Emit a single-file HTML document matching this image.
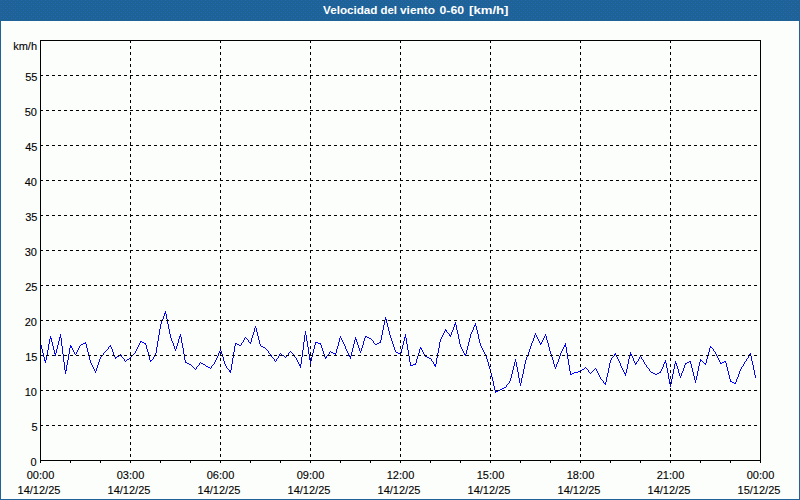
<!DOCTYPE html>
<html><head><meta charset="utf-8"><title>Velocidad del viento</title>
<style>
html,body{margin:0;padding:0;background:#fcfefc;}
body{width:800px;height:500px;overflow:hidden;font-family:"Liberation Sans",sans-serif;}
svg{display:block;position:absolute;left:0;top:0;}
text{font-family:"Liberation Sans",sans-serif;font-size:11px;fill:#000;stroke:#000;stroke-width:0.1px;}
.t{font-weight:bold;fill:#fff;stroke:none;}
</style></head><body>
<svg width="800" height="500" viewBox="0 0 800 500">
<rect x="0" y="0" width="800" height="500" fill="#fcfefc"/>
<defs><pattern id="dz" x="0" y="0" width="4" height="4" patternUnits="userSpaceOnUse"><rect width="4" height="4" fill="#1e6396"/><rect x="1" y="0" width="1" height="1" fill="#2a64b8"/><rect x="3" y="2" width="1" height="1" fill="#2a64b8"/></pattern></defs>
<rect x="0" y="0" width="800" height="21" fill="#1f6398"/>
<rect x="0" y="0" width="800" height="20" fill="url(#dz)"/>
<rect x="0" y="0" width="1" height="500" fill="#1f6398"/>
<rect x="799" y="0" width="1" height="500" fill="#1f6398"/>
<rect x="0" y="499" width="800" height="1" fill="#1f6398"/>
<text class="t" x="323" y="14" textLength="54.5" lengthAdjust="spacingAndGlyphs">Velocidad</text>
<text class="t" x="380.5" y="14" textLength="16.5" lengthAdjust="spacingAndGlyphs">del</text>
<text class="t" x="400" y="14" textLength="35" lengthAdjust="spacingAndGlyphs">viento</text>
<text class="t" x="439.5" y="14" textLength="24.5" lengthAdjust="spacingAndGlyphs">0-60</text>
<text class="t" x="469" y="14" textLength="39.5" lengthAdjust="spacingAndGlyphs">[km/h]</text>
<path shape-rendering="crispEdges" fill="#0000ff" stroke="none" d="M40 343h1v2h-1zM41 345h1v4h-1zM42 349h1v4h-1zM43 353h1v4h-1zM44 357h1v4h-1zM45 360h1v3h-1zM46 355h1v5h-1zM47 350h1v5h-1zM48 344h1v6h-1zM49 339h1v5h-1zM50 336h1v3h-1zM51 338h1v4h-1zM52 342h1v4h-1zM53 346h1v4h-1zM54 350h1v4h-1zM55 353h1v3h-1zM56 349h1v4h-1zM57 345h1v4h-1zM58 341h1v4h-1zM59 337h1v4h-1zM60 334h1v4h-1zM61 338h1v8h-1zM62 346h1v8h-1zM63 354h1v8h-1zM64 362h1v8h-1zM65 370h1v4h-1zM66 365h1v6h-1zM67 360h1v5h-1zM68 354h1v6h-1zM69 348h1v6h-1zM70 345h1v3h-1zM71 346h1v2h-1zM72 348h1v2h-1zM73 350h1v2h-1zM74 352h1v2h-1zM75 354h1v1h-1zM76 352h1v2h-1zM77 350h1v2h-1zM78 348h1v2h-1zM79 346h1v2h-1zM80 345h1v1h-1zM81 344h1v1h-1zM82 344h1v1h-1zM83 343h1v1h-1zM84 343h1v1h-1zM85 342h1v2h-1zM86 344h1v4h-1zM87 348h1v4h-1zM88 352h1v4h-1zM89 356h1v4h-1zM90 360h1v3h-1zM91 363h1v2h-1zM92 365h1v2h-1zM93 367h1v2h-1zM94 369h1v2h-1zM95 371h1v2h-1zM96 368h1v3h-1zM97 365h1v3h-1zM98 362h1v3h-1zM99 359h1v3h-1zM100 357h1v2h-1zM101 356h1v1h-1zM102 355h1v1h-1zM103 353h1v2h-1zM104 352h1v1h-1zM105 351h1v1h-1zM106 350h1v1h-1zM107 349h1v1h-1zM108 347h1v2h-1zM109 346h1v1h-1zM110 345h1v2h-1zM111 347h1v2h-1zM112 349h1v3h-1zM113 352h1v3h-1zM114 355h1v2h-1zM115 357h1v2h-1zM116 357h1v1h-1zM117 356h1v1h-1zM118 356h1v1h-1zM119 355h1v1h-1zM120 354h1v1h-1zM121 355h1v2h-1zM122 357h1v1h-1zM123 358h1v1h-1zM124 359h1v2h-1zM125 361h1v1h-1zM126 360h1v1h-1zM127 359h1v1h-1zM128 359h1v1h-1zM129 358h1v1h-1zM130 357h1v1h-1zM131 356h1v1h-1zM132 355h1v1h-1zM133 354h1v1h-1zM134 353h1v1h-1zM135 351h1v2h-1zM136 349h1v2h-1zM137 347h1v2h-1zM138 345h1v2h-1zM139 343h1v2h-1zM140 341h1v2h-1zM141 341h1v1h-1zM142 342h1v1h-1zM143 342h1v1h-1zM144 343h1v1h-1zM145 343h1v2h-1zM146 345h1v4h-1zM147 349h1v3h-1zM148 352h1v4h-1zM149 356h1v4h-1zM150 360h1v2h-1zM151 360h1v1h-1zM152 359h1v1h-1zM153 357h1v2h-1zM154 356h1v1h-1zM155 353h1v3h-1zM156 347h1v6h-1zM157 341h1v6h-1zM158 335h1v6h-1zM159 329h1v6h-1zM160 324h1v5h-1zM161 321h1v3h-1zM162 319h1v2h-1zM163 316h1v3h-1zM164 313h1v3h-1zM165 311h1v3h-1zM166 314h1v5h-1zM167 319h1v5h-1zM168 324h1v5h-1zM169 329h1v5h-1zM170 334h1v4h-1zM171 338h1v3h-1zM172 341h1v2h-1zM173 343h1v3h-1zM174 346h1v3h-1zM175 349h1v2h-1zM176 346h1v3h-1zM177 343h1v3h-1zM178 339h1v4h-1zM179 336h1v3h-1zM180 334h1v3h-1zM181 337h1v6h-1zM182 343h1v5h-1zM183 348h1v6h-1zM184 354h1v6h-1zM185 360h1v3h-1zM186 362h1v1h-1zM187 363h1v1h-1zM188 363h1v1h-1zM189 364h1v1h-1zM190 364h1v1h-1zM191 365h1v1h-1zM192 366h1v1h-1zM193 367h1v1h-1zM194 368h1v1h-1zM195 369h1v1h-1zM196 367h1v2h-1zM197 366h1v1h-1zM198 365h1v1h-1zM199 363h1v2h-1zM200 362h1v1h-1zM201 363h1v1h-1zM202 363h1v1h-1zM203 364h1v1h-1zM204 364h1v1h-1zM205 365h1v1h-1zM206 366h1v1h-1zM207 366h1v1h-1zM208 367h1v1h-1zM209 367h1v1h-1zM210 368h1v1h-1zM211 366h1v2h-1zM212 365h1v1h-1zM213 364h1v1h-1zM214 362h1v2h-1zM215 360h1v2h-1zM216 358h1v2h-1zM217 356h1v2h-1zM218 353h1v3h-1zM219 351h1v2h-1zM220 349h1v2h-1zM221 351h1v3h-1zM222 354h1v3h-1zM223 357h1v4h-1zM224 361h1v3h-1zM225 364h1v2h-1zM226 366h1v2h-1zM227 368h1v1h-1zM228 369h1v1h-1zM229 370h1v2h-1zM230 370h1v3h-1zM231 364h1v6h-1zM232 358h1v6h-1zM233 352h1v6h-1zM234 346h1v6h-1zM235 343h1v3h-1zM236 343h1v1h-1zM237 344h1v1h-1zM238 344h1v1h-1zM239 345h1v1h-1zM240 345h1v1h-1zM241 343h1v2h-1zM242 342h1v1h-1zM243 340h1v2h-1zM244 338h1v2h-1zM245 337h1v1h-1zM246 338h1v1h-1zM247 339h1v1h-1zM248 340h1v2h-1zM249 342h1v1h-1zM250 342h1v2h-1zM251 338h1v4h-1zM252 335h1v3h-1zM253 332h1v3h-1zM254 328h1v4h-1zM255 326h1v2h-1zM256 328h1v4h-1zM257 332h1v4h-1zM258 336h1v4h-1zM259 340h1v4h-1zM260 344h1v2h-1zM261 346h1v1h-1zM262 346h1v1h-1zM263 347h1v1h-1zM264 347h1v1h-1zM265 348h1v1h-1zM266 349h1v1h-1zM267 350h1v1h-1zM268 351h1v2h-1zM269 353h1v1h-1zM270 354h1v1h-1zM271 355h1v2h-1zM272 357h1v1h-1zM273 358h1v1h-1zM274 359h1v2h-1zM275 361h1v1h-1zM276 359h1v2h-1zM277 358h1v1h-1zM278 356h1v2h-1zM279 354h1v2h-1zM280 353h1v1h-1zM281 354h1v1h-1zM282 355h1v1h-1zM283 355h1v1h-1zM284 356h1v1h-1zM285 357h1v1h-1zM286 356h1v1h-1zM287 355h1v1h-1zM288 353h1v2h-1zM289 352h1v1h-1zM290 351h1v1h-1zM291 352h1v1h-1zM292 353h1v1h-1zM293 354h1v2h-1zM294 356h1v1h-1zM295 357h1v1h-1zM296 358h1v2h-1zM297 360h1v2h-1zM298 362h1v2h-1zM299 364h1v2h-1zM300 364h1v4h-1zM301 357h1v7h-1zM302 350h1v7h-1zM303 342h1v8h-1zM304 335h1v7h-1zM305 331h1v4h-1zM306 335h1v6h-1zM307 341h1v6h-1zM308 347h1v7h-1zM309 354h1v6h-1zM310 360h1v4h-1zM311 357h1v4h-1zM312 353h1v4h-1zM313 349h1v4h-1zM314 345h1v4h-1zM315 342h1v3h-1zM316 342h1v1h-1zM317 342h1v1h-1zM318 343h1v1h-1zM319 343h1v1h-1zM320 343h1v2h-1zM321 345h1v3h-1zM322 348h1v3h-1zM323 351h1v3h-1zM324 354h1v3h-1zM325 357h1v2h-1zM326 356h1v2h-1zM327 355h1v1h-1zM328 354h1v1h-1zM329 352h1v2h-1zM330 351h1v1h-1zM331 352h1v1h-1zM332 352h1v1h-1zM333 353h1v1h-1zM334 353h1v1h-1zM335 353h1v2h-1zM336 349h1v4h-1zM337 346h1v3h-1zM338 342h1v4h-1zM339 338h1v4h-1zM340 336h1v2h-1zM341 338h1v2h-1zM342 340h1v2h-1zM343 342h1v2h-1zM344 344h1v2h-1zM345 346h1v3h-1zM346 349h1v2h-1zM347 351h1v2h-1zM348 353h1v2h-1zM349 355h1v2h-1zM350 356h1v3h-1zM351 352h1v4h-1zM352 348h1v4h-1zM353 344h1v4h-1zM354 340h1v4h-1zM355 337h1v3h-1zM356 339h1v3h-1zM357 342h1v3h-1zM358 345h1v3h-1zM359 348h1v3h-1zM360 351h1v2h-1zM361 348h1v3h-1zM362 345h1v3h-1zM363 341h1v4h-1zM364 338h1v3h-1zM365 336h1v2h-1zM366 336h1v1h-1zM367 337h1v1h-1zM368 337h1v1h-1zM369 338h1v1h-1zM370 338h1v1h-1zM371 339h1v1h-1zM372 340h1v1h-1zM373 341h1v2h-1zM374 343h1v1h-1zM375 344h1v1h-1zM376 344h1v1h-1zM377 343h1v1h-1zM378 343h1v1h-1zM379 342h1v1h-1zM380 340h1v3h-1zM381 335h1v5h-1zM382 330h1v5h-1zM383 325h1v5h-1zM384 320h1v5h-1zM385 317h1v3h-1zM386 319h1v4h-1zM387 323h1v4h-1zM388 327h1v4h-1zM389 331h1v4h-1zM390 335h1v3h-1zM391 338h1v3h-1zM392 341h1v3h-1zM393 344h1v3h-1zM394 347h1v3h-1zM395 350h1v2h-1zM396 352h1v1h-1zM397 352h1v1h-1zM398 353h1v1h-1zM399 353h1v1h-1zM400 353h1v2h-1zM401 349h1v4h-1zM402 345h1v4h-1zM403 341h1v4h-1zM404 337h1v4h-1zM405 334h1v4h-1zM406 338h1v6h-1zM407 344h1v6h-1zM408 350h1v6h-1zM409 356h1v6h-1zM410 362h1v4h-1zM411 365h1v1h-1zM412 365h1v1h-1zM413 364h1v1h-1zM414 364h1v1h-1zM415 363h1v2h-1zM416 359h1v4h-1zM417 356h1v3h-1zM418 353h1v3h-1zM419 349h1v4h-1zM420 347h1v2h-1zM421 348h1v2h-1zM422 350h1v2h-1zM423 352h1v2h-1zM424 354h1v2h-1zM425 356h1v1h-1zM426 356h1v1h-1zM427 357h1v1h-1zM428 357h1v1h-1zM429 358h1v1h-1zM430 358h1v1h-1zM431 359h1v2h-1zM432 361h1v1h-1zM433 362h1v2h-1zM434 364h1v2h-1zM435 364h1v3h-1zM436 358h1v6h-1zM437 353h1v5h-1zM438 348h1v5h-1zM439 342h1v6h-1zM440 339h1v3h-1zM441 337h1v2h-1zM442 335h1v2h-1zM443 333h1v2h-1zM444 331h1v2h-1zM445 329h1v2h-1zM446 330h1v2h-1zM447 332h1v1h-1zM448 333h1v1h-1zM449 334h1v2h-1zM450 335h1v2h-1zM451 332h1v3h-1zM452 330h1v2h-1zM453 327h1v3h-1zM454 324h1v3h-1zM455 322h1v3h-1zM456 325h1v5h-1zM457 330h1v4h-1zM458 334h1v5h-1zM459 339h1v5h-1zM460 344h1v3h-1zM461 347h1v2h-1zM462 349h1v2h-1zM463 351h1v2h-1zM464 353h1v2h-1zM465 354h1v2h-1zM466 350h1v4h-1zM467 346h1v4h-1zM468 342h1v4h-1zM469 338h1v4h-1zM470 334h1v4h-1zM471 332h1v2h-1zM472 330h1v2h-1zM473 327h1v3h-1zM474 325h1v2h-1zM475 323h1v3h-1zM476 326h1v4h-1zM477 330h1v4h-1zM478 334h1v5h-1zM479 339h1v4h-1zM480 343h1v3h-1zM481 346h1v2h-1zM482 348h1v2h-1zM483 350h1v2h-1zM484 352h1v2h-1zM485 354h1v2h-1zM486 356h1v3h-1zM487 359h1v3h-1zM488 362h1v4h-1zM489 366h1v3h-1zM490 369h1v4h-1zM491 373h1v4h-1zM492 377h1v4h-1zM493 381h1v5h-1zM494 386h1v4h-1zM495 390h1v3h-1zM496 391h1v1h-1zM497 391h1v1h-1zM498 390h1v1h-1zM499 390h1v1h-1zM500 389h1v1h-1zM501 389h1v1h-1zM502 388h1v1h-1zM503 388h1v1h-1zM504 387h1v1h-1zM505 387h1v1h-1zM506 385h1v2h-1zM507 384h1v1h-1zM508 383h1v1h-1zM509 381h1v2h-1zM510 378h1v3h-1zM511 374h1v4h-1zM512 370h1v4h-1zM513 366h1v4h-1zM514 362h1v4h-1zM515 359h1v3h-1zM516 362h1v5h-1zM517 367h1v5h-1zM518 372h1v6h-1zM519 378h1v5h-1zM520 383h1v3h-1zM521 378h1v5h-1zM522 374h1v4h-1zM523 369h1v5h-1zM524 364h1v5h-1zM525 360h1v4h-1zM526 357h1v3h-1zM527 355h1v2h-1zM528 352h1v3h-1zM529 349h1v3h-1zM530 346h1v3h-1zM531 343h1v3h-1zM532 341h1v2h-1zM533 338h1v3h-1zM534 335h1v3h-1zM535 333h1v2h-1zM536 335h1v2h-1zM537 337h1v2h-1zM538 339h1v2h-1zM539 341h1v2h-1zM540 343h1v2h-1zM541 342h1v2h-1zM542 340h1v2h-1zM543 338h1v2h-1zM544 336h1v2h-1zM545 334h1v2h-1zM546 336h1v4h-1zM547 340h1v3h-1zM548 343h1v4h-1zM549 347h1v4h-1zM550 351h1v3h-1zM551 354h1v3h-1zM552 357h1v3h-1zM553 360h1v4h-1zM554 364h1v3h-1zM555 367h1v2h-1zM556 364h1v3h-1zM557 362h1v2h-1zM558 359h1v3h-1zM559 356h1v3h-1zM560 353h1v3h-1zM561 351h1v2h-1zM562 349h1v2h-1zM563 347h1v2h-1zM564 345h1v2h-1zM565 343h1v4h-1zM566 347h1v6h-1zM567 353h1v6h-1zM568 359h1v6h-1zM569 365h1v6h-1zM570 371h1v4h-1zM571 374h1v1h-1zM572 373h1v1h-1zM573 373h1v1h-1zM574 372h1v1h-1zM575 372h1v1h-1zM576 372h1v1h-1zM577 372h1v1h-1zM578 371h1v1h-1zM579 371h1v1h-1zM580 371h1v1h-1zM581 370h1v1h-1zM582 369h1v1h-1zM583 369h1v1h-1zM584 368h1v1h-1zM585 367h1v1h-1zM586 368h1v1h-1zM587 369h1v1h-1zM588 370h1v2h-1zM589 372h1v1h-1zM590 373h1v1h-1zM591 372h1v1h-1zM592 371h1v1h-1zM593 370h1v1h-1zM594 369h1v1h-1zM595 368h1v1h-1zM596 369h1v2h-1zM597 371h1v2h-1zM598 373h1v2h-1zM599 375h1v2h-1zM600 377h1v2h-1zM601 379h1v1h-1zM602 380h1v1h-1zM603 381h1v2h-1zM604 383h1v1h-1zM605 382h1v3h-1zM606 377h1v5h-1zM607 373h1v4h-1zM608 368h1v5h-1zM609 363h1v5h-1zM610 360h1v3h-1zM611 358h1v2h-1zM612 357h1v1h-1zM613 356h1v1h-1zM614 354h1v2h-1zM615 353h1v2h-1zM616 355h1v2h-1zM617 357h1v2h-1zM618 359h1v2h-1zM619 361h1v2h-1zM620 363h1v3h-1zM621 366h1v2h-1zM622 368h1v2h-1zM623 370h1v2h-1zM624 372h1v2h-1zM625 373h1v3h-1zM626 369h1v4h-1zM627 364h1v5h-1zM628 359h1v5h-1zM629 355h1v4h-1zM630 352h1v3h-1zM631 354h1v2h-1zM632 356h1v2h-1zM633 358h1v3h-1zM634 361h1v2h-1zM635 363h1v2h-1zM636 362h1v2h-1zM637 361h1v1h-1zM638 359h1v2h-1zM639 357h1v2h-1zM640 356h1v1h-1zM641 357h1v2h-1zM642 359h1v1h-1zM643 360h1v2h-1zM644 362h1v2h-1zM645 364h1v1h-1zM646 365h1v2h-1zM647 367h1v1h-1zM648 368h1v1h-1zM649 369h1v2h-1zM650 371h1v1h-1zM651 372h1v1h-1zM652 372h1v1h-1zM653 373h1v1h-1zM654 373h1v1h-1zM655 374h1v1h-1zM656 374h1v1h-1zM657 373h1v1h-1zM658 373h1v1h-1zM659 372h1v1h-1zM660 371h1v2h-1zM661 369h1v2h-1zM662 367h1v2h-1zM663 364h1v3h-1zM664 362h1v2h-1zM665 360h1v3h-1zM666 363h1v5h-1zM667 368h1v5h-1zM668 373h1v6h-1zM669 379h1v5h-1zM670 384h1v3h-1zM671 379h1v5h-1zM672 374h1v5h-1zM673 369h1v5h-1zM674 364h1v5h-1zM675 361h1v3h-1zM676 363h1v3h-1zM677 366h1v3h-1zM678 369h1v4h-1zM679 373h1v3h-1zM680 376h1v2h-1zM681 373h1v3h-1zM682 371h1v2h-1zM683 368h1v3h-1zM684 365h1v3h-1zM685 363h1v2h-1zM686 363h1v1h-1zM687 362h1v1h-1zM688 362h1v1h-1zM689 361h1v1h-1zM690 361h1v3h-1zM691 364h1v4h-1zM692 368h1v4h-1zM693 372h1v4h-1zM694 376h1v4h-1zM695 380h1v3h-1zM696 376h1v4h-1zM697 371h1v5h-1zM698 366h1v5h-1zM699 362h1v4h-1zM700 359h1v3h-1zM701 360h1v1h-1zM702 361h1v1h-1zM703 362h1v1h-1zM704 363h1v1h-1zM705 363h1v2h-1zM706 359h1v4h-1zM707 356h1v3h-1zM708 352h1v4h-1zM709 348h1v4h-1zM710 346h1v2h-1zM711 347h1v1h-1zM712 348h1v1h-1zM713 349h1v2h-1zM714 351h1v1h-1zM715 352h1v2h-1zM716 354h1v2h-1zM717 356h1v2h-1zM718 358h1v2h-1zM719 360h1v2h-1zM720 362h1v2h-1zM721 363h1v1h-1zM722 362h1v1h-1zM723 362h1v1h-1zM724 361h1v1h-1zM725 361h1v2h-1zM726 363h1v4h-1zM727 367h1v4h-1zM728 371h1v4h-1zM729 375h1v4h-1zM730 379h1v3h-1zM731 381h1v1h-1zM732 382h1v1h-1zM733 382h1v1h-1zM734 383h1v1h-1zM735 382h1v2h-1zM736 379h1v3h-1zM737 377h1v2h-1zM738 374h1v3h-1zM739 371h1v3h-1zM740 369h1v2h-1zM741 367h1v2h-1zM742 366h1v1h-1zM743 364h1v2h-1zM744 362h1v2h-1zM745 361h1v1h-1zM746 359h1v2h-1zM747 358h1v1h-1zM748 356h1v2h-1zM749 354h1v2h-1zM750 353h1v3h-1zM751 356h1v5h-1zM752 361h1v4h-1zM753 365h1v5h-1zM754 370h1v5h-1zM755 375h1v3h-1z"/>
<g shape-rendering="crispEdges" stroke="#000" stroke-width="1" fill="none">
<line x1="40" y1="425.5" x2="761" y2="425.5" stroke-dasharray="3 3"/>
<line x1="40" y1="390.5" x2="761" y2="390.5" stroke-dasharray="3 3"/>
<line x1="40" y1="355.5" x2="761" y2="355.5" stroke-dasharray="3 3"/>
<line x1="40" y1="320.5" x2="761" y2="320.5" stroke-dasharray="3 3"/>
<line x1="40" y1="285.5" x2="761" y2="285.5" stroke-dasharray="3 3"/>
<line x1="40" y1="250.5" x2="761" y2="250.5" stroke-dasharray="3 3"/>
<line x1="40" y1="215.5" x2="761" y2="215.5" stroke-dasharray="3 3"/>
<line x1="40" y1="180.5" x2="761" y2="180.5" stroke-dasharray="3 3"/>
<line x1="40" y1="145.5" x2="761" y2="145.5" stroke-dasharray="3 3"/>
<line x1="40" y1="110.5" x2="761" y2="110.5" stroke-dasharray="3 3"/>
<line x1="40" y1="75.5" x2="761" y2="75.5" stroke-dasharray="3 3"/>
<line x1="130.5" y1="40" x2="130.5" y2="461" stroke-dasharray="3 3"/>
<line x1="220.5" y1="40" x2="220.5" y2="461" stroke-dasharray="3 3"/>
<line x1="310.5" y1="40" x2="310.5" y2="461" stroke-dasharray="3 3"/>
<line x1="400.5" y1="40" x2="400.5" y2="461" stroke-dasharray="3 3"/>
<line x1="490.5" y1="40" x2="490.5" y2="461" stroke-dasharray="3 3"/>
<line x1="580.5" y1="40" x2="580.5" y2="461" stroke-dasharray="3 3"/>
<line x1="670.5" y1="40" x2="670.5" y2="461" stroke-dasharray="3 3"/>
<rect x="40.5" y="40.5" width="720" height="420"/>
<line x1="40.5" y1="460" x2="40.5" y2="463"/>
<line x1="70.5" y1="460" x2="70.5" y2="463"/>
<line x1="100.5" y1="460" x2="100.5" y2="463"/>
<line x1="130.5" y1="460" x2="130.5" y2="463"/>
<line x1="160.5" y1="460" x2="160.5" y2="463"/>
<line x1="190.5" y1="460" x2="190.5" y2="463"/>
<line x1="220.5" y1="460" x2="220.5" y2="463"/>
<line x1="250.5" y1="460" x2="250.5" y2="463"/>
<line x1="280.5" y1="460" x2="280.5" y2="463"/>
<line x1="310.5" y1="460" x2="310.5" y2="463"/>
<line x1="340.5" y1="460" x2="340.5" y2="463"/>
<line x1="370.5" y1="460" x2="370.5" y2="463"/>
<line x1="400.5" y1="460" x2="400.5" y2="463"/>
<line x1="430.5" y1="460" x2="430.5" y2="463"/>
<line x1="460.5" y1="460" x2="460.5" y2="463"/>
<line x1="490.5" y1="460" x2="490.5" y2="463"/>
<line x1="520.5" y1="460" x2="520.5" y2="463"/>
<line x1="550.5" y1="460" x2="550.5" y2="463"/>
<line x1="580.5" y1="460" x2="580.5" y2="463"/>
<line x1="610.5" y1="460" x2="610.5" y2="463"/>
<line x1="640.5" y1="460" x2="640.5" y2="463"/>
<line x1="670.5" y1="460" x2="670.5" y2="463"/>
<line x1="700.5" y1="460" x2="700.5" y2="463"/>
<line x1="730.5" y1="460" x2="730.5" y2="463"/>
<line x1="760.5" y1="460" x2="760.5" y2="463"/>
</g>
<text x="37" y="50" text-anchor="end">km/h</text>
<text x="36.5" y="466" text-anchor="end">0</text>
<text x="37.5" y="431" text-anchor="end">5</text>
<text x="37" y="396" text-anchor="end">10</text>
<text x="37.5" y="361" text-anchor="end">15</text>
<text x="37" y="326" text-anchor="end">20</text>
<text x="37.5" y="291" text-anchor="end">25</text>
<text x="37" y="256" text-anchor="end">30</text>
<text x="37.5" y="221" text-anchor="end">35</text>
<text x="37" y="186" text-anchor="end">40</text>
<text x="37.5" y="151" text-anchor="end">45</text>
<text x="37" y="116" text-anchor="end">50</text>
<text x="37.5" y="81" text-anchor="end">55</text>
<text x="40.5" y="479" text-anchor="middle">00:00</text>
<text x="39" y="494" text-anchor="middle">14/12/25</text>
<text x="130.5" y="479" text-anchor="middle">03:00</text>
<text x="129" y="494" text-anchor="middle">14/12/25</text>
<text x="220.5" y="479" text-anchor="middle">06:00</text>
<text x="219" y="494" text-anchor="middle">14/12/25</text>
<text x="310.5" y="479" text-anchor="middle">09:00</text>
<text x="309" y="494" text-anchor="middle">14/12/25</text>
<text x="400.5" y="479" text-anchor="middle">12:00</text>
<text x="399" y="494" text-anchor="middle">14/12/25</text>
<text x="490.5" y="479" text-anchor="middle">15:00</text>
<text x="489" y="494" text-anchor="middle">14/12/25</text>
<text x="580.5" y="479" text-anchor="middle">18:00</text>
<text x="579" y="494" text-anchor="middle">14/12/25</text>
<text x="670.5" y="479" text-anchor="middle">21:00</text>
<text x="669" y="494" text-anchor="middle">14/12/25</text>
<text x="760.5" y="479" text-anchor="middle">00:00</text>
<text x="759" y="494" text-anchor="middle">15/12/25</text>
</svg>
</body></html>
